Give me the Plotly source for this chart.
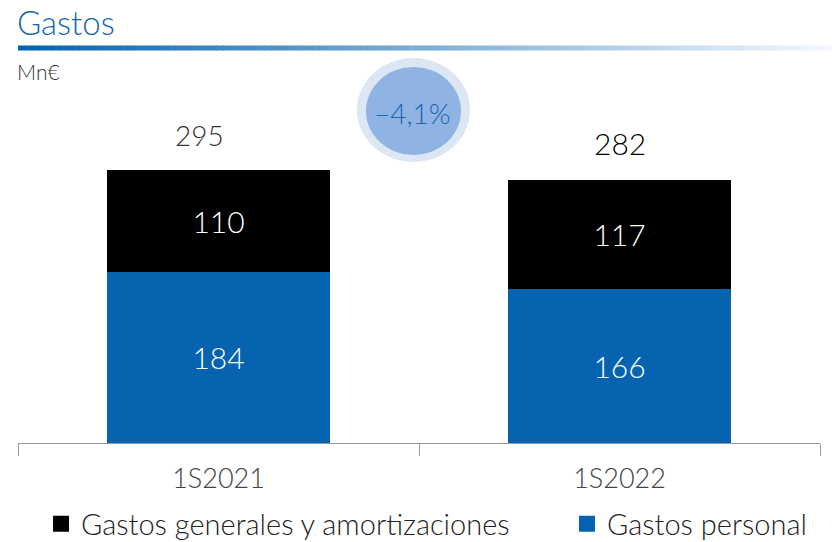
import plotly.graph_objects as go

categories = ["1S2021", "1S2022"]
gastos_personal = [184, 166]
gastos_generales = [110, 117]
totals = [295, 282]
change_label = "–4,1%"
title_text = "Gastos"
unit_text = "Mn€"

FONT = "Lato"
BLUE = "#0563b0"

fig = go.Figure()
fig.add_trace(go.Bar(
    x=categories, y=gastos_personal, name="Gastos personal",
    marker=dict(color=BLUE, line=dict(width=0)),
    text=[str(v) for v in gastos_personal], textposition="inside",
    insidetextanchor="middle",
    textfont=dict(color="white", size=30, family=FONT, weight=300),
    showlegend=False,
))
fig.add_trace(go.Bar(
    x=categories, y=gastos_generales, name="Gastos generales y amortizaciones",
    marker=dict(color="#000000", line=dict(width=0)),
    text=[str(v) for v in gastos_generales], textposition="inside",
    insidetextanchor="middle",
    textfont=dict(color="white", size=30, family=FONT, weight=300),
    showlegend=False,
))
fig.add_trace(go.Scatter(
    x=[None], y=[None], mode="markers", name="Gastos generales y amortizaciones",
    marker=dict(symbol="square", size=16, color="#000000"), legend="legend",
))
fig.add_trace(go.Scatter(
    x=[None], y=[None], mode="markers", name="Gastos personal",
    marker=dict(symbol="square", size=16, color=BLUE), legend="legend2",
))

annotations = []
total_styles = [dict(size=28, color="#333333", xshift=-19, yshift=35),
                dict(size=30, color="#000000", xshift=0, yshift=37)]
for c, p, g, t, st in zip(categories, gastos_personal, gastos_generales, totals, total_styles):
    annotations.append(dict(
        x=c, y=p + g, xref="x", yref="y", text=str(t), showarrow=False,
        yanchor="middle", yshift=st["yshift"], xshift=st["xshift"],
        font=dict(size=st["size"], color=st["color"], family=FONT, weight=300),
    ))

annotations.append(dict(
    x=-0.004, y=1.1, xref="paper", yref="paper", text=title_text,
    showarrow=False, xanchor="left", yanchor="middle",
    font=dict(size=33, color="#1565b4", family=FONT, weight=300),
))
annotations.append(dict(
    x=-0.004, y=0.9687, xref="paper", yref="paper", text=unit_text,
    showarrow=False, xanchor="left", yanchor="middle",
    font=dict(size=21, color="#333333", family=FONT, weight=300),
))
annotations.append(dict(
    x=0.4925, y=0.8616, xref="paper", yref="paper", text=change_label,
    showarrow=False, xanchor="center", yanchor="middle",
    font=dict(size=28, color="#1a64b0", family=FONT, weight=300),
))

shapes = []
n = 120
x0p, x1p = 0.0, (831 - 10) / 802
y_top = (443 - 45.5) / 383
y_bot = (443 - 50.5) / 383
start = (5, 99, 176)
end = (245, 249, 253)
for i in range(n):
    f = i / (n - 1)
    col = tuple(round(start[k] + (end[k] - start[k]) * f) for k in range(3))
    xa = x0p + (x1p - x0p) * i / n
    xb = x0p + (x1p - x0p) * (i + 1) / n + 0.001
    shapes.append(dict(type="rect", xref="paper", yref="paper",
                       x0=xa, x1=xb, y0=y_bot, y1=y_top,
                       fillcolor="rgb(%d,%d,%d)" % col, line=dict(width=0),
                       layer="above"))
shapes.append(dict(type="circle", xref="paper", yref="paper",
                   x0=0.4227, x1=0.5636, y0=0.734, y1=1.005,
                   fillcolor="#dde6f3", line=dict(width=0)))
shapes.append(dict(type="circle", xref="paper", yref="paper",
                   x0=0.4339, x1=0.5524, y0=0.752, y1=0.9817,
                   fillcolor="#8fb4e3", line=dict(width=0)))

legend_font = dict(size=29, color="#222222", family=FONT, weight=300)
fig.update_layout(
    width=839, height=542,
    margin=dict(l=10, r=27, t=52, b=107, autoexpand=False),
    barmode="stack", bargap=0.446,
    plot_bgcolor="white", paper_bgcolor="white",
    font=dict(family=FONT, color="#333333"),
    showlegend=True,
    legend=dict(orientation="h", x=0.0287, xanchor="left", y=-0.2115,
                yanchor="middle", font=legend_font, itemsizing="trace"),
    legend2=dict(orientation="h", x=0.6845, xanchor="left", y=-0.2115,
                 yanchor="middle", font=legend_font, itemsizing="trace"),
    annotations=annotations,
    shapes=shapes,
    uniformtext=dict(mode="show", minsize=10),
)
fig.update_xaxes(
    showline=True, linecolor="#999999", linewidth=1,
    ticks="outside", tickson="boundaries", ticklen=12, tickcolor="#999999",
    tickfont=dict(size=27, color="#444444", family=FONT, weight=300),
    showgrid=False, range=[-0.5, 1.5], ticklabelstandoff=12,
)
fig.update_yaxes(visible=False, range=[0, 412], showgrid=False)

fig.write_html("out.html")
